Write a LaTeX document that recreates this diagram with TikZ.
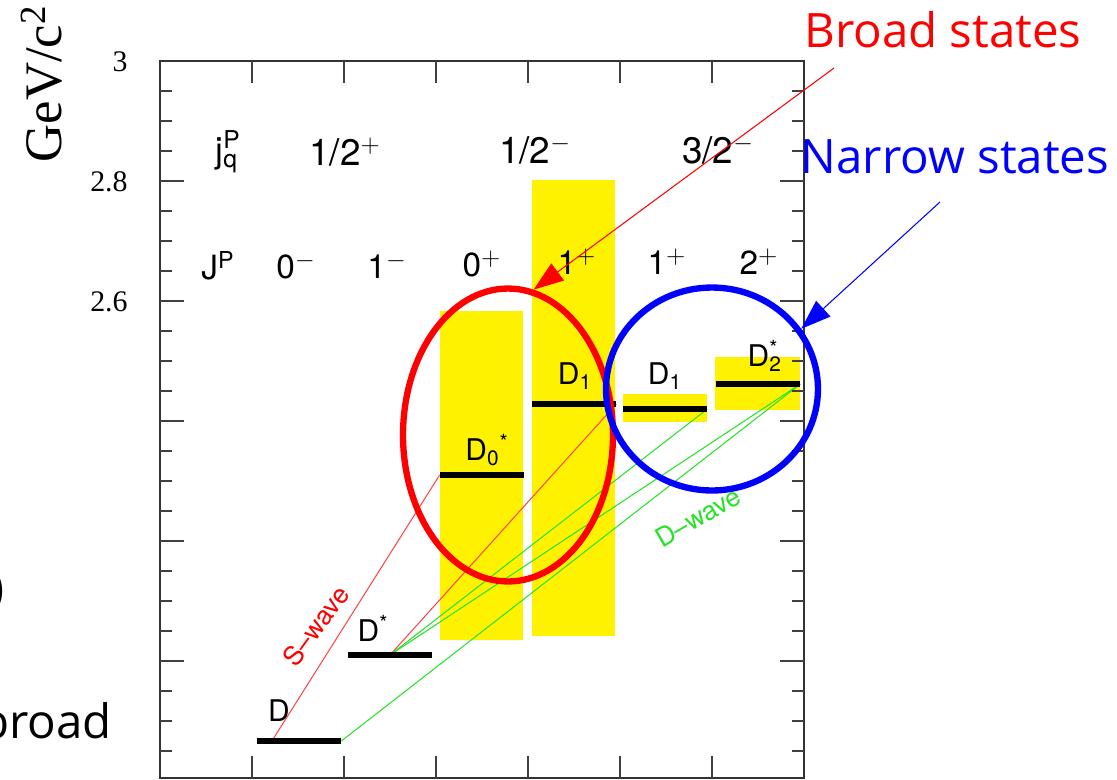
\documentclass[tikz,border=0pt]{standalone}
\usepackage{fontspec}
\setmainfont{TeX Gyre Heros}
\newfontfamily\axisfont{Liberation Serif}
\newfontfamily\notefont{Open Sans}
\usetikzlibrary{shapes.geometric,arrows.meta,calc,backgrounds}

\definecolor{swavered}{RGB}{255,70,70}
\definecolor{dwavegreen}{RGB}{40,225,40}

\begin{document}
\begin{tikzpicture}[x=0.02cm, y=-0.02cm,
  lvl/.style={fill=black, inner sep=0pt, minimum width=1.68cm, minimum height=0.12cm},
  band/.style={fill=yellow},
  lbl/.style={font=\fontsize{17}{17}\selectfont, inner sep=0pt},
  qn/.style={font=\fontsize{19}{19}\selectfont, inner sep=0pt},
  ticklbl/.style={font=\axisfont\fontsize{17}{17}\selectfont, anchor=east, inner sep=0pt},
  tick/.style={line width=0.8pt, black!75},
  swave/.style={swavered, line width=0.6pt},
  dwave/.style={dwavegreen, line width=0.6pt},
  wavelbl/.style={font=\fontsize{15}{15}\selectfont, inner sep=0pt},
  ring/.style={draw, ellipse, line width=3.6pt, inner sep=0pt},
  note/.style={font=\notefont\fontsize{27}{27}\selectfont, inner sep=0pt},
  pointer/.style={-{Triangle[length=17pt, width=12pt]}, line width=0.6pt}
]
\useasboundingbox (0,0) rectangle (1117,779);

% frame and ticks
\draw[line width=1.1pt, black!80] (160,61) rectangle (804,778);
\foreach \k [evaluate=\k as \len using {mod(\k,4)==0 ? 24 : 12}] in {1,...,23} {
  \draw[tick] (160,{61+30*\k}) -- ++(\len,0);
  \draw[tick] (804,{61+30*\k}) -- ++(-\len,0);
}
\foreach \c in {1,...,6} {
  \draw[tick] ({160+92*\c},61) -- ++(0,22);
  \draw[tick] ({160+92*\c},778) -- ++(0,-22);
}

\node[ticklbl] (m3) at (128,62) {3};
\node[ticklbl] (m28) at (128,182) {2.8};
\node[ticklbl] (m26) at (128,302) {2.6};
\node[rotate=90, font=\axisfont\fontsize{30}{30}\selectfont, inner sep=0pt] (unit) at (42,84) {GeV/c\textsuperscript{2}};

% quantum numbers
\node[qn, font=\fontsize{20}{20}\selectfont] (jq) at (228,152) {j\rlap{\textsubscript{q}}\textsuperscript{P}};
\node[qn, font=\fontsize{21}{21}\selectfont] (jq1) at (345,152) {1/2$^{+}$};
\node[qn, font=\fontsize{21}{21}\selectfont] (jq2) at (535,150) {1/2$^{-}$};
\node[qn, font=\fontsize{21}{21}\selectfont] (jq3) at (718,150) {3/2$^{-}$};
\node[qn] (JP) at (218,266) {J\textsuperscript{P}};
\node[qn] (J1) at (296,266) {0$^{-}$};
\node[qn] (J2) at (387,266) {1$^{-}$};
\node[qn] (J3) at (482,264) {0$^{+}$};
\node[qn] (J4) at (577,262) {1$^{+}$};
\node[qn] (J5) at (667,262) {1$^{+}$};
\node[qn] (J6) at (759,262) {2$^{+}$};

% levels
\node[lvl] (D) at (299,741) {};
\node[lvl] (Dp) at (390,655) {};
\node[lvl] (D0) at (482,475) {};
\node[lvl] (D1b) at (574,404) {};
\node[lvl] (D1n) at (665,409) {};
\node[lvl] (D2) at (758,384) {};

% widths of the states and transitions, behind the levels
\begin{scope}[on background layer]
\fill[band] (440,311) rectangle (523,640);
\fill[band] (532,180) rectangle (615,636);
\fill[band] (623,394) rectangle (707,422);
\fill[band] (715,357) rectangle (800,410);
\draw[swave] ($(D.west)!.18!(D.east)$) -- (D0.west);
\draw[swave] (Dp.center) -- (D1b.east);
\draw[dwave] (Dp.center) -- (D1n.east);
\draw[dwave] (Dp.center) -- (D2.east);
\draw[dwave] (D.east) -- (D2.east);
\end{scope}
\node[wavelbl, rotate=54, text=red] (slbl) at (316,626) {S--wave};
\node[wavelbl, rotate=30, text=dwavegreen] (dlbl) at (698,517) {D--wave};

\node[lbl] (lD) at (279,711) {D};
\node[lbl] (lDp) at (373,628) {D\textsuperscript{*}};
\node[lbl] (lD0) at (487,450) {D\textsubscript{0}\textsuperscript{*}};
\node[lbl] (lD1b) at (575,376) {D\textsubscript{1}};
\node[lbl] (lD1n) at (665,376) {D\textsubscript{1}};
\node[lbl] (lD2) at (763,356) {D\rlap{\textsubscript{2}}\textsuperscript{*}};

% broad and narrow groups
\node[ring, draw=red, minimum width=4.2cm, minimum height=5.86cm] (broad) at (508,435) {};
\node[ring, draw=blue, minimum width=4.24cm, minimum height=4.06cm] (narrow) at (712,389) {};

\node[note, text=red] (broadlbl) at (943,30) {Broad states};
\node[note, text=blue] (narrowlbl) at (955,157) {Narrow states};
\coordinate (brtail) at (834,68);
\coordinate (nrtail) at (940,202);
\draw[pointer, red] (brtail) -- (broad.80);
\draw[pointer, blue] (nrtail) -- (narrow.34);

% cut-off text at the left
\node[note, anchor=east] (paren) at (5,591) {)};
\node[note, anchor=base east] (broadcut) at (112,738) {broad};
\end{tikzpicture}
\end{document}
